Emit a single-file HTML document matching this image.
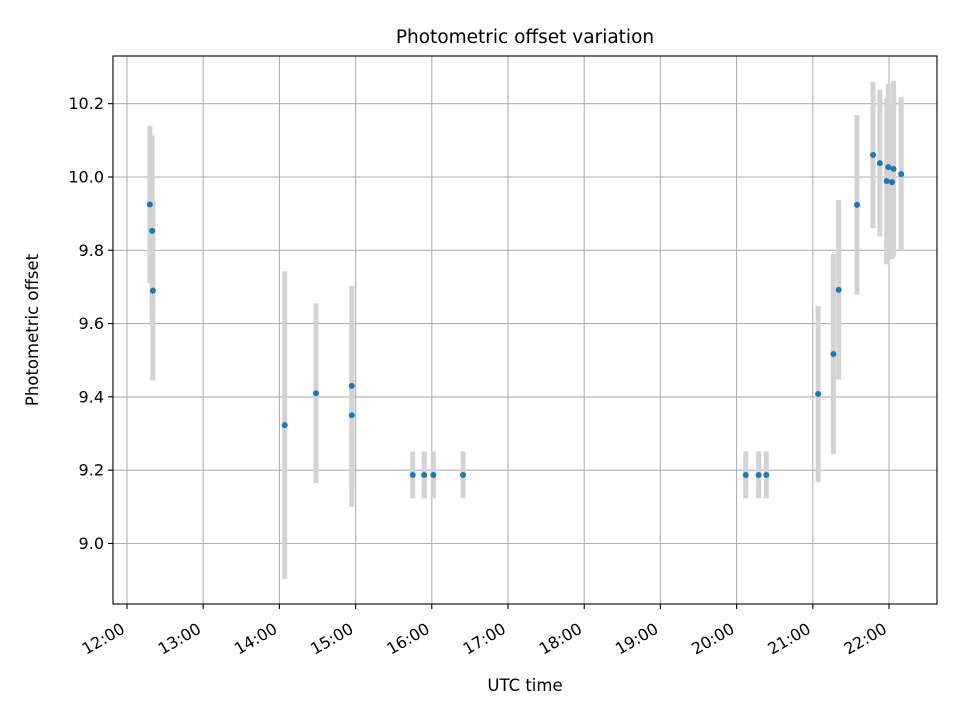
<!DOCTYPE html>
<html><head><meta charset="utf-8"><style>
body{margin:0;background:#fff;}
svg text{font-family:"DejaVu Sans","Liberation Sans",sans-serif;fill:#000;}
</style></head><body>
<svg id="chart" width="960" height="720" viewBox="0 0 960 720">
<rect width="960" height="720" fill="#fff"/>
<g id="grid"></g>
<g id="errs"></g>
<g id="pts"></g>
<rect x="113" y="56" width="824" height="548" fill="none" stroke="#000" stroke-width="1.1"/>
<g id="ticks"></g>
<text x="525" y="43" font-size="18.5" text-anchor="middle">Photometric offset variation</text>
<text x="525" y="691" font-size="16.5" text-anchor="middle">UTC time</text>
<text x="38" y="330" font-size="16.5" text-anchor="middle" transform="rotate(-90 38 330)">Photometric offset</text>
</svg>
<script>
const times=[0.30,0.33,0.34,2.07,2.48,2.95,2.95,3.75,3.90,4.02,4.41,8.12,8.29,8.39,9.07,9.27,9.34,9.58,9.79,9.88,9.97,9.99,10.04,10.06,10.16];
const values=[9.925,9.853,9.69,9.323,9.41,9.43,9.35,9.187,9.187,9.187,9.187,9.187,9.187,9.187,9.408,9.517,9.692,9.924,10.06,10.038,9.989,10.027,9.986,10.022,10.008];
const errors=[0.215,0.26,0.245,0.42,0.245,0.273,0.25,0.064,0.064,0.064,0.064,0.064,0.064,0.064,0.24,0.273,0.245,0.245,0.2,0.2,0.227,0.227,0.21,0.24,0.21];
const xTickLabels=["12:00","13:00","14:00","15:00","16:00","17:00","18:00","19:00","20:00","21:00","22:00"];
const yTickLabels=["9.0","9.2","9.4","9.6","9.8","10.0","10.2"];
const NS="http://www.w3.org/2000/svg";
const X=t=>127+t*76.2;
const Y=v=>177-(v-10)*366.5;
function mk(tag,attrs,parent){const e=document.createElementNS(NS,tag);for(const k in attrs)e.setAttribute(k,attrs[k]);document.getElementById(parent).appendChild(e);return e;}
xTickLabels.forEach((lab,i)=>{
  const x=X(i);
  const g=mk('line',{x1:x,x2:x,y1:56,y2:604,stroke:'#b0b0b0','stroke-width':1.1},'grid');
  
  
  const t=mk('line',{x1:x,x2:x,y1:604,y2:609,stroke:'#000','stroke-width':1.1},'ticks');
  
  
  const ax=x-1, ay=632;
  const tx=mk('text',{x:ax,y:ay,'font-size':'16','text-anchor':'end',transform:`rotate(-30 ${ax} ${ay})`},'ticks');
  tx.textContent=lab;
  
  
});
yTickLabels.forEach(lab=>{
  const y=Y(parseFloat(lab));
  const g=mk('line',{x1:113,x2:937,y1:y,y2:y,stroke:'#b0b0b0','stroke-width':1.1},'grid');
  
  
  const t=mk('line',{x1:108,x2:113,y1:y,y2:y,stroke:'#000','stroke-width':1.1},'ticks');
  
  
  const tx=mk('text',{x:104,y:y+5.5,'font-size':'16','text-anchor':'end'},'ticks');
  tx.textContent=lab;
  
  
});
times.forEach((t,i)=>{
  const x=X(t);
  const e=mk('line',{x1:x,x2:x,y1:Y(values[i]+errors[i]),y2:Y(values[i]-errors[i]),stroke:'#d3d3d3','stroke-width':5},'errs');
  
  
});
times.forEach((t,i)=>{
  const c=mk('circle',{cx:X(t),cy:Y(values[i]),r:3,fill:'#1f77b4'},'pts');
  
  
});
</script>
</body></html>
